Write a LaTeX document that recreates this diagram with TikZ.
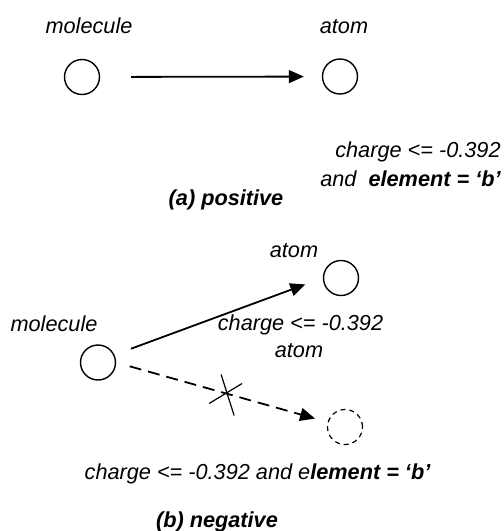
\documentclass[tikz,border=0pt]{standalone}
\usepackage{fontspec}
\setmainfont{Liberation Sans}
\usetikzlibrary{arrows.meta}
\tikzset{
  obj/.style     = {draw, circle, line width=0.7pt, minimum size=17.5pt, inner sep=0pt},
  objneg/.style  = {obj, line width=0.6pt, dash pattern=on 2.5pt off 2pt},
  link/.style    = {-{Triangle[length=7.5pt,width=6.5pt]}, line width=0.9pt},
  nolink/.style  = {link, dash pattern=on 6pt off 3.5pt},
  cross/.style   = {line width=0.6pt},
  lbl/.style     = {font=\fontsize{10.85pt}{13pt}\selectfont\itshape, inner sep=0pt, anchor=base},
  sublbl/.style  = {lbl, font=\fontsize{10.85pt}{13pt}\selectfont\bfseries\itshape},
}
\begin{document}
\begin{tikzpicture}[x=0.5pt, y=-0.5pt]
  \useasboundingbox (0,0) rectangle (504,531);
  % (a) positive
  \node[obj] (molA) at (82,77) {};
  \node[obj] (atomA) at (340,76.5) {};
  \node[lbl] (molAlbl) at (89,33) {molecule};
  \node[lbl] (atomAlbl) at (344,33) {atom};
  \draw[link, shorten <=15.5pt, shorten >=9pt] (molA) -- (atomA);
  \node[lbl, anchor=base east] (condA1) at (501,157) {charge <= -0.392};
  \node[lbl, anchor=base east] (condA2) at (501,186) {and~~\textbf{element = ‘b’}};
  \node[sublbl] (capA) at (226,205) {(a) positive};
  % (b) negative
  \node[obj] (molB) at (98,362.5) {};
  \node[obj] (atomB) at (341,278) {};
  \node[objneg] (atomN) at (345,427) {};
  \node[lbl] (atomBlbl) at (294,257) {atom};
  \node[lbl] (molBlbl) at (54,331) {molecule};
  \node[lbl] (condB1) at (300.5,330) {charge <= -0.392};
  \node[lbl] (atomNlbl) at (299,357) {atom};
  \draw[link, shorten <=8.8pt, shorten >=9.3pt] (molB.25) -- (atomB.west);
  \draw[nolink, shorten <=7pt, shorten >=6.5pt] (molB.east) -- node[pos=0.52, coordinate] (cut) {} (atomN);
  \draw[cross] (cut) ++(-17,10) -- ++(33,-20);
  \draw[cross] (cut) ++(-5,-19) -- ++(13,41);
  \node[lbl] (condB2) at (257.5,479) {charge <= -0.392 and e\textbf{lement = ‘b’}};
  \node[sublbl] (capB) at (217,527) {(b) negative};
\end{tikzpicture}
\end{document}
